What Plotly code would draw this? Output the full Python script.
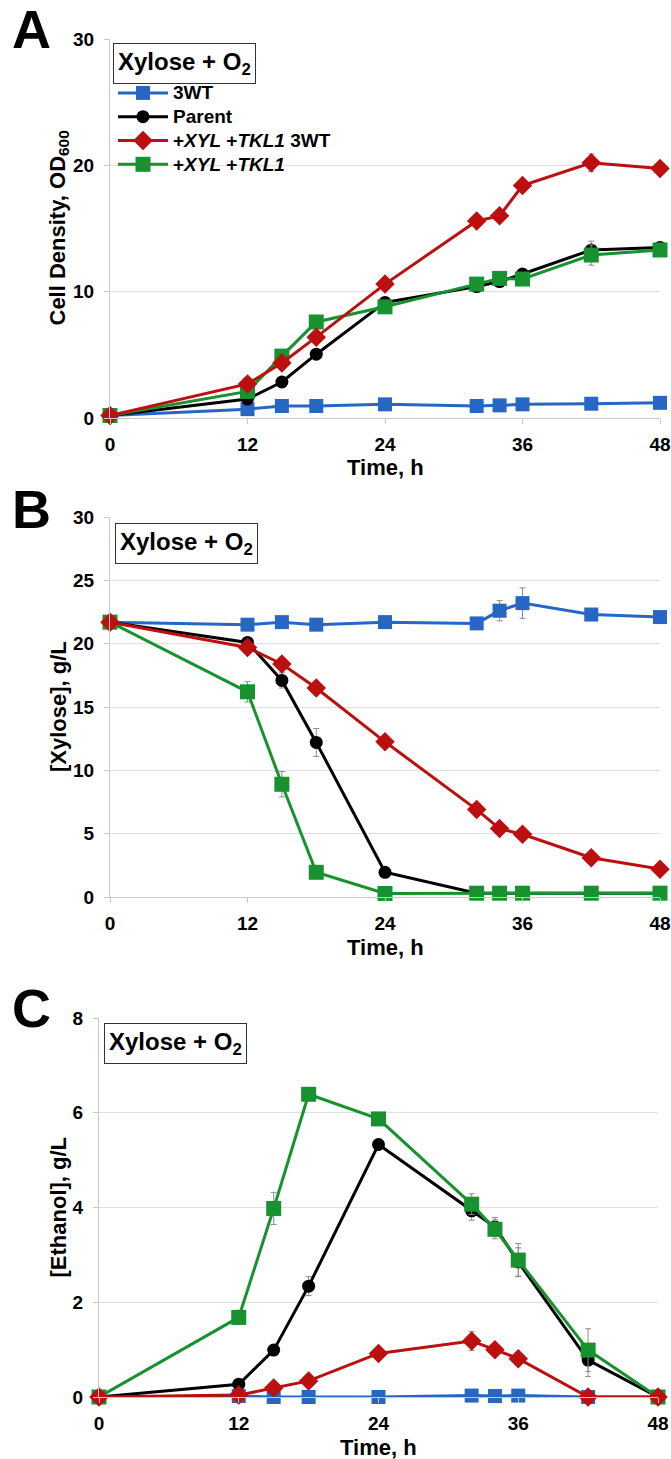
import plotly.graph_objects as go

# ---------------- data ----------------
time_h = [0, 12, 15, 18, 24, 32, 34, 36, 42, 48]
x_ticks = [0, 12, 24, 36, 48]

names = ["3WT", "Parent", "+<i>XYL</i> +<i>TKL1</i> 3WT", "+<i>XYL</i> +<i>TKL1</i>"]

# Panel A: cell density (OD600)
od_3wt    = [0.2, 0.7, 0.95, 0.95, 1.08, 0.95, 1.0, 1.08, 1.13, 1.2]
od_parent = [0.2, 1.5, 2.85, 5.05, 9.15, 10.4, 10.8, 11.4, 13.3, 13.5]
od_xyl3wt = [0.2, 2.7, 4.35, 6.4, 10.6, 15.6, 16.0, 18.4, 20.2, 19.75]
od_xyl    = [0.2, 2.1, 4.9, 7.6, 8.8, 10.6, 11.05, 11.0, 12.9, 13.3]
od_3wt_err    = [0.05, 0.1, 0.1, 0.1, 0.1, 0.1, 0.1, 0.1, 0.1, 0.1]
od_parent_err = [0.05, 0.1, 0.2, 0.2, 0.2, 0.2, 0.2, 0.3, 0.7, 0.3]
od_xyl3wt_err = [0.05, 0.2, 0.2, 0.2, 0.2, 0.2, 0.2, 0.2, 0.7, 0.2]
od_xyl_err    = [0.05, 0.2, 0.2, 0.2, 0.2, 0.2, 0.2, 0.2, 0.8, 0.2]

# Panel B: xylose (g/L)
xyl_3wt    = [21.7, 21.5, 21.7, 21.5, 21.7, 21.6, 22.6, 23.2, 22.3, 22.1]
xyl_parent = [21.7, 20.1, 17.1, 12.2, 1.95, 0.3, 0.3, 0.3, 0.3, 0.3]
xyl_xyl3wt = [21.7, 19.7, 18.4, 16.5, 12.25, 6.9, 5.4, 4.95, 3.1, 2.2]
xyl_xyl    = [21.7, 16.2, 8.9, 1.95, 0.28, 0.3, 0.3, 0.3, 0.3, 0.3]
xyl_3wt_err    = [0.2, 0.3, 0.3, 0.2, 0.3, 0.3, 0.8, 1.2, 0.3, 0.3]
xyl_parent_err = [0.2, 0.3, 0.6, 1.1, 0.2, 0.1, 0.1, 0.1, 0.1, 0.1]
xyl_xyl3wt_err = [0.2, 0.3, 0.3, 0.3, 0.3, 0.3, 0.3, 0.3, 0.3, 0.2]
xyl_xyl_err    = [0.2, 0.8, 1.0, 0.3, 0.1, 0.1, 0.1, 0.1, 0.1, 0.1]

# Panel C: ethanol (g/L)
eth_3wt    = [0.0, 0.02, 0.0, 0.0, 0.0, 0.03, 0.02, 0.03, 0.0, 0.0]
eth_parent = [0.0, 0.27, 0.99, 2.34, 5.33, 3.93, 3.59, 2.85, 0.78, 0.0]
eth_xyl3wt = [0.0, 0.04, 0.19, 0.34, 0.92, 1.18, 1.0, 0.81, 0.0, 0.0]
eth_xyl    = [0.0, 1.68, 3.98, 6.39, 5.87, 4.07, 3.54, 2.89, 0.99, 0.0]
eth_3wt_err    = [0.0, 0.01, 0.01, 0.01, 0.01, 0.01, 0.01, 0.01, 0.01, 0.0]
eth_parent_err = [0.0, 0.05, 0.05, 0.2, 0.1, 0.2, 0.2, 0.3, 0.35, 0.0]
eth_xyl3wt_err = [0.0, 0.02, 0.05, 0.05, 0.05, 0.2, 0.05, 0.12, 0.02, 0.0]
eth_xyl_err    = [0.0, 0.15, 0.34, 0.1, 0.1, 0.22, 0.2, 0.35, 0.45, 0.02]

# ---------------- style ----------------
colors = ["#2866C4", "#000000", "#BC0F0F", "#17922F"]
symbols = ["square", "circle", "diamond", "square"]
msizes = [14, 13, 15, 15]
ranks = [1, 2, 3, 4]
draw_order = [0, 1, 3, 2]

FONT = "Liberation Sans, Arial, sans-serif"
W, H = 671, 1459

panels = [
    dict(ax="", vals=[od_3wt, od_parent, od_xyl3wt, od_xyl],
         errs=[od_3wt_err, od_parent_err, od_xyl3wt_err, od_xyl_err],
         x=(110, 660), y=(39, 418), yr=[0, 30], ydt=10, letter="A", letter_y=29,
         ytitle="Cell Density, OD<sub>600</sub>", box=(113, 43)),
    dict(ax="2", vals=[xyl_3wt, xyl_parent, xyl_xyl3wt, xyl_xyl],
         errs=[xyl_3wt_err, xyl_parent_err, xyl_xyl3wt_err, xyl_xyl_err],
         x=(110, 660), y=(517, 897), yr=[0, 30], ydt=5, letter="B", letter_y=509,
         ytitle="[Xylose], g/L", box=(115, 523)),
    dict(ax="3", vals=[eth_3wt, eth_parent, eth_xyl3wt, eth_xyl],
         errs=[eth_3wt_err, eth_parent_err, eth_xyl3wt_err, eth_xyl_err],
         x=(99, 658), y=(1018, 1397), yr=[0, 8], ydt=2, letter="C", letter_y=1008,
         ytitle="[Ethanol], g/L", box=(104, 1023)),
]

fig = go.Figure()
annotations = []
layout = dict(width=W, height=H, margin=dict(l=0, r=0, t=0, b=0, autoexpand=False),
              paper_bgcolor="white", plot_bgcolor="white",
              font=dict(family=FONT, color="black"))

for pi, p in enumerate(panels):
    xa = "x" + p["ax"]
    ya = "y" + p["ax"]
    for i in draw_order:
        fig.add_trace(go.Scatter(
            x=time_h, y=p["vals"][i],
            name="<span style='font-size:19px'>%s</span>" % names[i],
            mode="lines+markers", xaxis=xa, yaxis=ya,
            line=dict(color=colors[i], width=3),
            marker=dict(symbol=symbols[i], size=msizes[i], color=colors[i],
                        line=dict(width=0)),
            error_y=dict(type="data", array=p["errs"][i], visible=True,
                         color="#8c8c8c", thickness=1, width=3),
            showlegend=(pi == 0), legendrank=ranks[i], cliponaxis=False,
        ))
    x0, x1 = p["x"]
    y0, y1 = p["y"]
    layout["xaxis" + p["ax"]] = dict(
        domain=[x0 / W, x1 / W], range=[0, 48], tickvals=x_ticks,
        showgrid=False, zeroline=False, showline=True, linecolor="#c8c8c8",
        linewidth=1, ticks="outside", ticklen=5, tickcolor="#c8c8c8",
        tickfont=dict(family=FONT, size=19, weight="bold"),
        anchor=ya, ticklabelstandoff=4, fixedrange=True, automargin=False)
    layout["yaxis" + p["ax"]] = dict(
        domain=[1 - y1 / H, 1 - y0 / H], range=p["yr"], dtick=p["ydt"],
        showgrid=True, gridcolor="#e0e0e0", gridwidth=1, zeroline=False,
        showline=True, linecolor="#c8c8c8", linewidth=1, ticks="outside",
        ticklen=5, tickcolor="#c8c8c8",
        tickfont=dict(family=FONT, size=19, weight="bold"),
        anchor=xa, ticklabelstandoff=6, fixedrange=True, automargin=False)
    # panel letter
    annotations.append(dict(text="<b>%s</b>" % p["letter"], xref="paper", yref="paper",
                            x=31 / W, y=1 - p["letter_y"] / H, xanchor="center", yanchor="middle",
                            showarrow=False, font=dict(family=FONT, size=54, color="black")))
    # condition box
    bx0, by0 = p["box"]
    annotations.append(dict(text="<b>Xylose + O<sub>2</sub></b>", xref="paper", yref="paper",
                            x=bx0 / W, y=1 - by0 / H, xanchor="left", yanchor="top",
                            showarrow=False, bordercolor="#333333", borderwidth=1,
                            borderpad=4, bgcolor="white",
                            font=dict(family=FONT, size=24, color="black")))
    # axis titles
    annotations.append(dict(text="<b>Time, h</b>", xref="paper", yref="paper",
                            x=(x0 + x1) / 2 / W, y=1 - (y1 + 50) / H,
                            xanchor="center", yanchor="middle", showarrow=False,
                            font=dict(family=FONT, size=22, color="black")))
    annotations.append(dict(text="<b>%s</b>" % p["ytitle"], xref="paper", yref="paper",
                            x=58 / W, y=1 - (y0 + y1) / 2 / H, textangle=-90,
                            xanchor="center", yanchor="middle", showarrow=False,
                            font=dict(family=FONT, size=22, color="black")))

layout["annotations"] = annotations
layout["legend"] = dict(x=113 / W, y=1 - 76 / H, xanchor="left", yanchor="top",
                        bgcolor="rgba(0,0,0,0)", borderwidth=0, itemwidth=50,
                        font=dict(family=FONT, size=16, color="black", weight="bold"),
                        tracegroupgap=0, itemclick=False, itemdoubleclick=False)
layout["showlegend"] = True
fig.update_layout(**layout)
fig.write_html("out.html", config={"displayModeBar": False},
               post_script="document.body.style.margin='0';document.body.style.padding='0';")
